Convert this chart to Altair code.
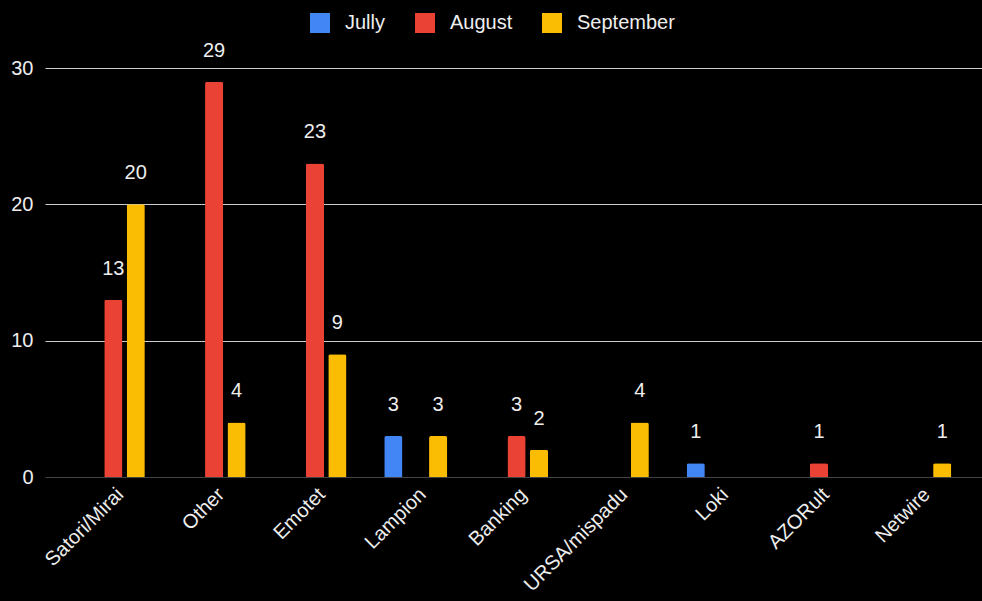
import altair as alt
import pandas as pd

categories = ["Satori/Mirai", "Other", "Emotet", "Lampion", "Banking",
              "URSA/mispadu", "Loki", "AZORult", "Netwire"]
series = ["Jully", "August", "September"]
july = [0, 0, 0, 3, 0, 0, 1, 0, 0]
august = [13, 29, 23, 0, 3, 0, 0, 1, 0]
september = [20, 4, 9, 3, 2, 4, 0, 0, 1]
colors = ["#4285F4", "#EA4335", "#FBBC04"]

rows = []
for s, vals in zip(series, [july, august, september]):
    for c, v in zip(categories, vals):
        if v:
            rows.append({"category": c, "series": s, "value": v})
df = pd.DataFrame(rows)

FONT = "Liberation Sans"

base = alt.Chart(df).encode(
    x=alt.X("category:N", sort=categories,
            scale=alt.Scale(domain=categories, paddingInner=0.375, paddingOuter=0.335, align=0.545),
            axis=alt.Axis(title=None, labelAngle=-45, labelFontSize=20, labelColor="#eeeeee",
                          labelFont=FONT, ticks=False, domain=False, labelPadding=7)),
    xOffset=alt.XOffset("series:N", scale=alt.Scale(domain=series, paddingInner=0.19)),
    y=alt.Y("value:Q", scale=alt.Scale(domain=[0, 30], nice=False),
            axis=alt.Axis(title=None, values=[0, 10, 20, 30], ticks=False, domain=False,
                          labelFontSize=20, labelColor="#eeeeee", labelFont=FONT,
                          labelPadding=12,
                          gridColor={"condition": {"test": "datum.value === 0", "value": "#444444"},
                                     "value": "#cccccc"},
                          gridWidth=1)),
)

bars = base.mark_bar(cornerRadiusTopLeft=2, cornerRadiusTopRight=2).encode(
    color=alt.Color("series:N", sort=series,
                    scale=alt.Scale(domain=series, range=colors),
                    legend=alt.Legend(title=None, orient="none", direction="horizontal",
                                      legendX=265, legendY=-55, symbolType="square",
                                      symbolSize=400, symbolStrokeWidth=0,
                                      labelFontSize=20, labelColor="#eeeeee", labelFont=FONT,
                                      labelOffset=15, columnPadding=29, padding=0))
)

labels = base.mark_text(baseline="bottom", dy=-21, fontSize=20, color="#eeeeee", font=FONT).encode(
    text="value:Q"
)

chart = alt.layer(bars, labels).properties(
    width=937, height=409,
    background="#000000",
    padding={"left": 45, "top": 68, "right": 0, "bottom": 124},
    autosize=alt.AutoSizeParams(type="none"),
).configure_view(stroke=None)

chart.save("out.html", embed_options={"renderer": "svg", "actions": False})
